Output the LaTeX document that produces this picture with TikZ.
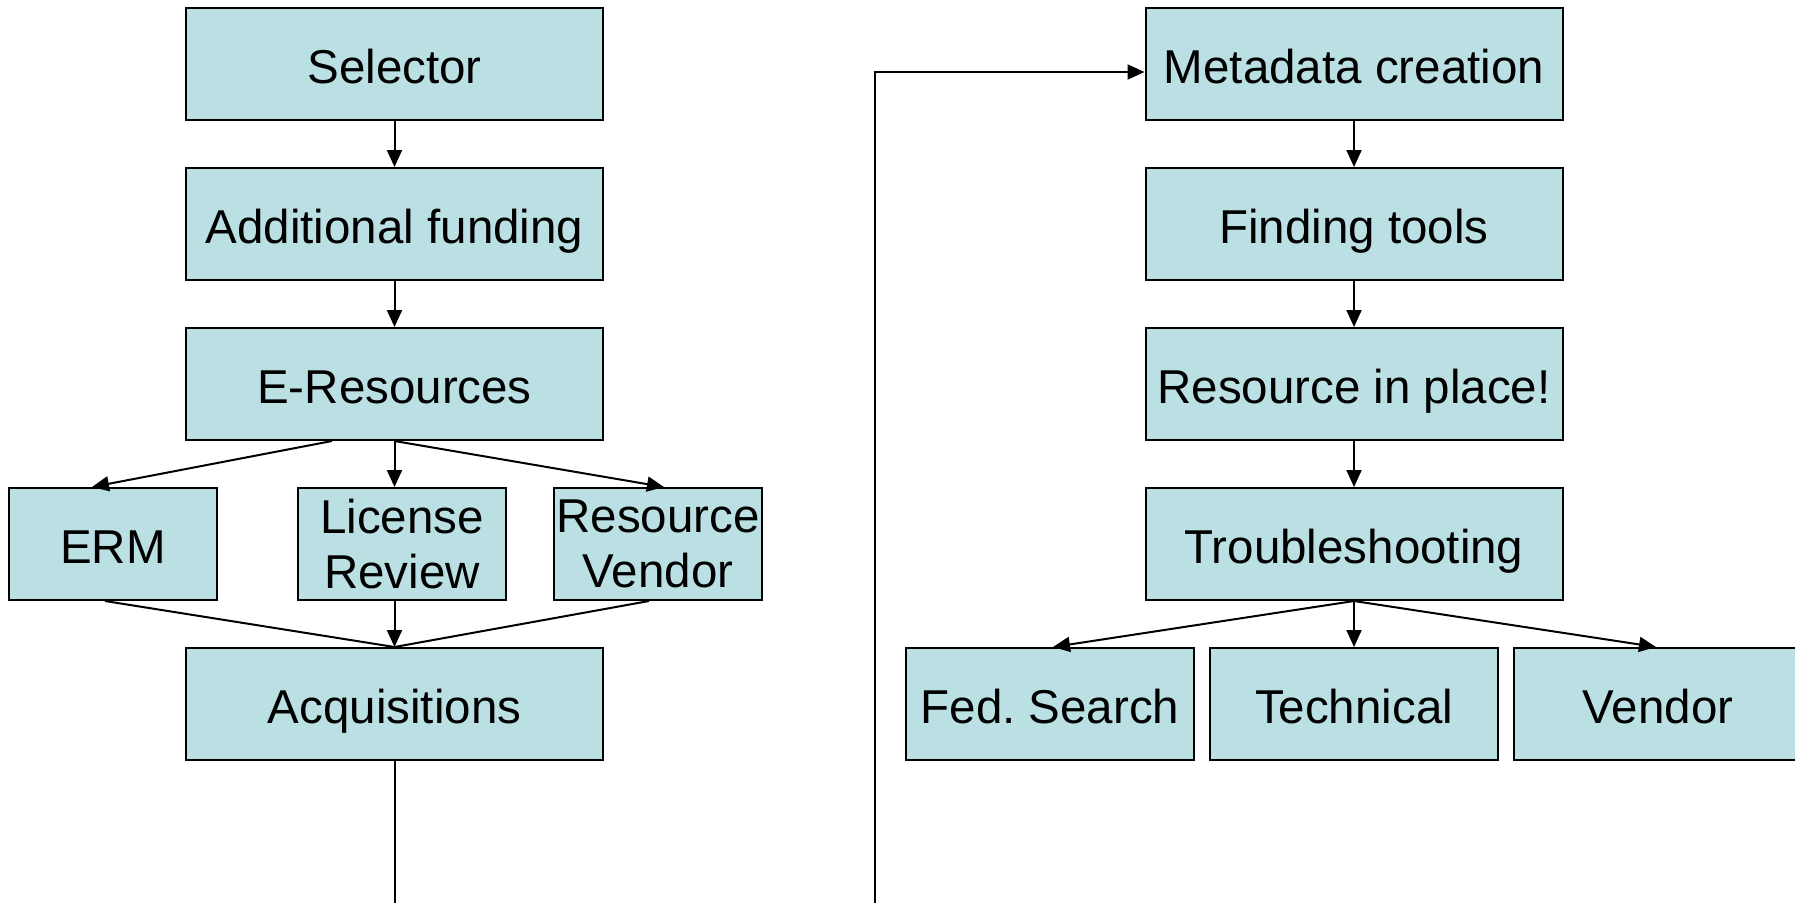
\documentclass[tikz,border=0pt]{standalone}
\usepackage{fontspec}
\setmainfont{Liberation Sans}
\usetikzlibrary{arrows.meta}
\definecolor{boxfill}{HTML}{BBE0E3}
\frenchspacing
\tikzset{
  box/.style={draw=black, fill=boxfill, line width=2pt, inner sep=0pt,
    minimum height=112pt, align=center,
    font=\frenchspacing\fontsize{47.5}{55}\selectfont},
  one/.style={text height=39pt, text depth=0pt},
  wide/.style={box, one, minimum width=417pt},
  small/.style={box, minimum width=208pt},
  mid/.style={box, one, minimum width=288pt},
  conn/.style={line width=2pt},
  arr/.style={conn, -{Triangle[length=17pt,width=15pt]}}
}
\begin{document}
\begin{tikzpicture}[x=1pt,y=-1pt]
\clip (0,0) rectangle (1795,903);
\fill[white] (0,0) rectangle (1795,903);
% left column
\node[wide] (sel) at (394.5,64) {Selector};
\node[wide] (fund) at (394.5,224) {Additional funding};
\node[wide] (eres) at (394.5,384) {E-Resources};
\node[small, one] (erm) at (113,544) {ERM};
\node[small] (lic) at (402,544) {License\\Review};
\node[small] (rv) at (658,544) {Resource\\Vendor};
\node[wide] (acq) at (394.5,704) {Acquisitions};
% right column
\node[wide] (meta) at (1354,64) {Metadata creation};
\node[wide] (find) at (1354,224) {Finding tools};
\node[wide] (place) at (1354,384) {Resource in place!};
\node[wide] (trouble) at (1354,544) {Troubleshooting};
\node[mid] (fed) at (1050,704) {Fed. Search};
\node[mid] (tech) at (1354,704) {Technical};
\node[mid] (vend) at (1658,704) {Vendor};
% coordinates for free ends
\coordinate (acqend) at (394.5,903);
\coordinate (loopstart) at (875,903);
% left connectors
\draw[arr] (sel.south) -- (fund.north);
\draw[arr] (fund.south) -- (eres.north);
\draw[arr] ([xshift=-62.5pt]eres.south) -- ([xshift=-21pt]erm.north);
\draw[arr] (eres.south) -- (eres.south |- erm.north);
\draw[arr] (eres.south) -- ([xshift=6pt]rv.north);
\draw[conn] ([xshift=-8pt]erm.south) -- (acq.north);
\draw[arr] (eres.south |- erm.south) -- (acq.north);
\draw[conn] ([xshift=-9pt]rv.south) -- (acq.north);
\draw[conn] (acq.south) -- (acqend);
% loop
\draw[arr] (loopstart) |- ([yshift=-8pt]meta.west);
% right connectors
\draw[arr] (meta.south) -- (find.north);
\draw[arr] (find.south) -- (place.north);
\draw[arr] (place.south) -- (trouble.north);
\draw[arr] (trouble.south) -- ([xshift=3pt]fed.north);
\draw[arr] (trouble.south) -- (tech.north);
\draw[arr] (trouble.south) -- ([xshift=-2pt]vend.north);
\end{tikzpicture}
\end{document}
